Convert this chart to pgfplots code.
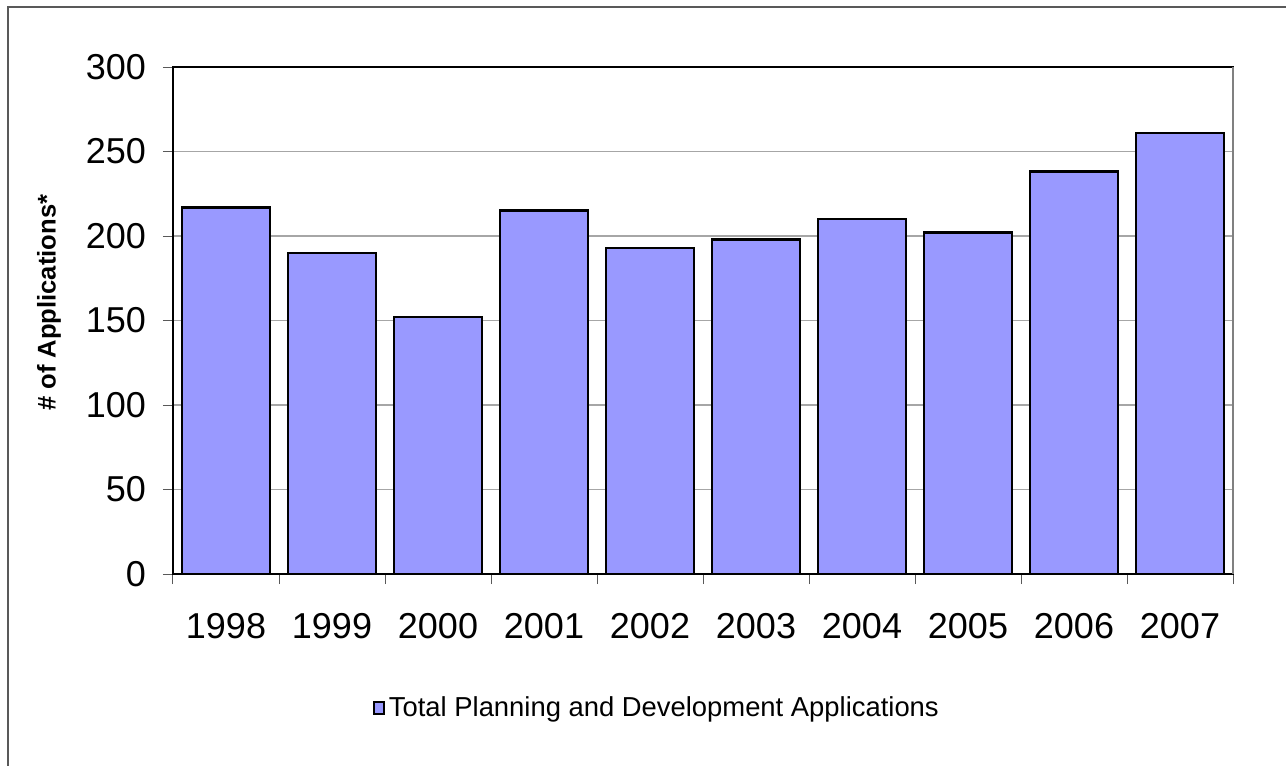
\documentclass[border=0pt]{standalone}
\usepackage{fontspec}
\setmainfont{Liberation Sans}
\usepackage{pgfplots}
\pgfplotsset{compat=1.18}
\definecolor{barfill}{HTML}{9999FF}
\begin{document}
\begin{tikzpicture}
\path[use as bounding box] (0,0) rectangle (643pt,383pt);
\draw[gray!70!black, line width=0.6pt] (4pt,0) -- (4pt,379.5pt) -- (643pt,379.5pt);
\begin{axis}[
  at={(86.5pt,96pt)}, anchor=south west,
  scale only axis, width=530pt, height=253.5pt,
  xmin=-0.5, xmax=9.5, ymin=0, ymax=300,
  ytick={0,50,...,300},
  xtick={-0.5,0.5,...,9.5}, xticklabels={},
  extra x ticks={0,1,2,3,4,5,6,7,8,9},
  extra x tick labels={1998,1999,2000,2001,2002,2003,2004,2005,2006,2007},
  extra x tick style={major tick length=0pt, grid=none, xticklabel style={yshift=-16pt}},
  tick align=outside, major tick length=5pt,
  xtick pos=bottom, ytick pos=left,
  tick style={gray!70!black, line width=0.5pt},
  ymajorgrids, grid style={gray!70, line width=0.6pt},
  axis line style={black, line width=0.6pt},
  /pgf/number format/assume math mode=true,
  ticklabel style={font=\fontsize{18}{21}\selectfont},
  yticklabel style={xshift=-5pt},
  ylabel={\textbf{\# of Applications*}},
  ylabel style={font=\fontsize{12.8}{15}\selectfont, anchor=center},
  every axis y label/.append style={at={(-0.117,0.535)}},
  legend style={at={(0.4575,-0.264)}, anchor=center, draw=none, fill=none,
    font=\fontsize{13.7}{16}\selectfont, inner sep=0pt,
    legend cell align=left},
  legend image code/.code={\draw[black, line width=0.9pt, fill=barfill] (0pt,-3pt) rectangle (5pt,3pt);},
  clip=false,
]
\addplot[ybar, bar width=0.83, fill=barfill, draw=black, line width=1.3pt]
  coordinates {(0,217) (1,190) (2,152) (3,215) (4,193) (5,198) (6,210) (7,202) (8,238) (9,261)};
\addlegendentry{Total Planning and Development Applications}
\draw[gray, line width=0.6pt] (rel axis cs:1,0) -- (rel axis cs:1,1);
\end{axis}
\end{tikzpicture}
\end{document}
